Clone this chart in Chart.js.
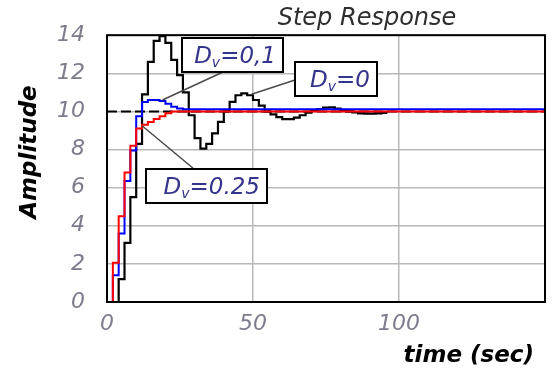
<!DOCTYPE html>
<html>
<head>
<meta charset="utf-8">
<script src="https://cdn.jsdelivr.net/npm/chart.js@4/dist/chart.umd.min.js"></script>
<style>
  html, body { margin: 0; padding: 0; background: #fff; }
  canvas { display: block; }
</style>
</head>
<body>
<canvas id="stepChart" width="554" height="372"></canvas>
<script>
// sampled step responses, value held until the next sample
let timeFast = [0, 2, 4, 6, 8, 10, 12, 14, 16, 18, 20, 22, 24, 26, 150];
let redResp  = [0, 2.06, 4.5, 6.8, 8.2, 9.1, 9.3, 9.45, 9.6, 9.75, 9.9, 10, 10, 10, 10];
let blueResp = [0, 1.4, 3.6, 6.35, 7.95, 9.75, 10.5, 10.6, 10.6, 10.55, 10.4, 10.25, 10.15, 10.12, 10.12];

let timeSlow = [0, 2, 4, 6, 8, 10, 12, 14, 16, 18, 20, 22, 24, 26, 28, 30, 32, 34, 36, 38,
  40, 42, 44, 46, 48, 50, 52, 54, 56, 58, 60, 62, 64, 66, 68, 70, 72, 74, 76, 78,
  80, 82, 84, 86, 88, 90, 92, 94, 96];
let blackResp = [0, 0, 1.2, 3.1, 5.5, 8.3, 10.9, 12.6, 13.7, 13.95, 13.6, 12.7, 11.9, 11.0, 9.8, 8.6, 8.05, 8.3, 8.85, 9.45,
  10.0, 10.5, 10.85, 10.95, 10.85, 10.6, 10.3, 10.0, 9.85, 9.7, 9.6, 9.6, 9.68, 9.8, 9.93, 10.03, 10.12, 10.2, 10.22, 10.15,
  10.08, 10.0, 9.95, 9.9, 9.88, 9.88, 9.9, 9.92, 9.92];

let finalValue = 10;
let dvLabels = ['0,1', '0', '0.25'];
let xTicks = [0, 50, 100];

const pts = (ts, vs) => ts.map((t, i) => ({ x: t, y: vs[i] }));

const tickFont = { family: 'DejaVu Sans', size: 22, style: 'italic' };
const tickColor = '#7c7c8c';

// callout boxes: which label, box rect, where the leader leaves the box, and the point it points at
const callouts = [
  { label: dvLabels[0], box: [182, 38, 101, 34], from: [223, 72], at: [19, 10.6] },
  { label: dvLabels[1], box: [295, 62, 82, 34], from: [295, 80], at: [49.5, 10.9] },
  { label: dvLabels[2], box: [146, 169, 121, 34], from: [194, 169], at: [12, 9.25] }
];

function drawCallout(ctx, chart, c) {
  const [x, y, w, h] = c.box;
  const px = chart.scales.x.getPixelForValue(c.at[0]);
  const py = chart.scales.y.getPixelForValue(c.at[1]);
  ctx.save();
  ctx.strokeStyle = '#4a4a4a';
  ctx.lineWidth = 1.5;
  ctx.beginPath();
  ctx.moveTo(c.from[0], c.from[1]);
  ctx.lineTo(px, py);
  ctx.stroke();

  ctx.fillStyle = '#fff';
  ctx.fillRect(x, y, w, h);
  ctx.strokeStyle = '#000';
  ctx.lineWidth = 2;
  ctx.strokeRect(x, y, w, h);

  const big = 'italic 23px "DejaVu Sans"';
  const small = 'italic 14px "DejaVu Sans"';
  ctx.font = big;
  const wD = ctx.measureText('D').width;
  const rest = '=' + c.label;
  const wRest = ctx.measureText(rest).width;
  ctx.font = small;
  const wv = ctx.measureText('v').width;
  let tx = x + w - 7 - (wD + wv + wRest);
  const base = y + h / 2 + 8;
  ctx.fillStyle = '#34348c';
  ctx.textBaseline = 'alphabetic';
  ctx.textAlign = 'left';
  ctx.font = big;
  ctx.fillText('D', tx, base);
  tx += wD;
  ctx.font = small;
  ctx.fillText('v', tx, base + 4);
  tx += wv;
  ctx.font = big;
  ctx.fillText(rest, tx, base);
  ctx.restore();
}

const frame = {
  id: 'frame',
  afterDatasetsDraw(chart) {
    const { ctx, chartArea: a } = chart;
    ctx.save();
    ctx.strokeStyle = '#000';
    ctx.lineWidth = 2;
    ctx.strokeRect(a.left, a.top, a.right - a.left, a.bottom - a.top);
    ctx.restore();
    callouts.forEach(c => drawCallout(ctx, chart, c));
  },
  afterDraw(chart) {
    const { ctx } = chart;
    ctx.save();
    ctx.fillStyle = '#2e2e2e';
    ctx.font = 'italic 24px "DejaVu Sans"';
    ctx.textAlign = 'center';
    ctx.textBaseline = 'alphabetic';
    ctx.fillText('Step Response', 367, 25);

    ctx.fillStyle = '#000';
    ctx.font = 'italic bold 23px "DejaVu Sans"';
    ctx.textAlign = 'right';
    ctx.textBaseline = 'middle';
    ctx.fillText('time (sec)', 534, 356);

    ctx.translate(30, 152);
    ctx.rotate(-Math.PI / 2);
    ctx.textAlign = 'center';
    ctx.fillText('Amplitude', 0, 0);
    ctx.restore();
  }
};

const ctx = document.getElementById('stepChart').getContext('2d');
new Chart(ctx, {
  type: 'line',
  data: {
    datasets: [
      { label: 'Dv=0.25', data: pts(timeFast, redResp), borderColor: '#ff0000', borderWidth: 2, stepped: true, pointRadius: 0, order: 0 },
      { label: 'Dv=0,1', data: pts(timeFast, blueResp), borderColor: '#0000ff', borderWidth: 2, stepped: true, pointRadius: 0, order: 1 },
      { label: 'Dv=0', data: pts(timeSlow, blackResp), borderColor: '#000000', borderWidth: 2.2, stepped: true, pointRadius: 0, order: 2 },
      { label: 'final', data: [{ x: 0, y: finalValue }, { x: 150, y: finalValue }], borderColor: '#000000', borderWidth: 2, borderDash: [10, 4], pointRadius: 0, order: 3 }
    ]
  },
  options: {
    responsive: false,
    animation: false,
    devicePixelRatio: 1,
    layout: { padding: { top: 35, right: 9, bottom: 0, left: 0 } },
    plugins: { legend: { display: false }, tooltip: { enabled: false } },
    scales: {
      x: {
        type: 'linear', min: 0, max: 150,
        afterBuildTicks: s => { s.ticks = xTicks.concat([150]).map(v => ({ value: v })); },
        ticks: { font: tickFont, color: tickColor, padding: 9, maxRotation: 0,
          callback: v => (xTicks.includes(v) ? v : '') },
        grid: { color: '#b8b8b8', lineWidth: 1.5, drawTicks: false },
        border: { display: false },
        afterFit: s => { s.height = 70; }
      },
      y: {
        min: 0, max: 14,
        ticks: { stepSize: 2, font: tickFont, color: tickColor, padding: 22 },
        grid: { color: '#b8b8b8', lineWidth: 1.5, drawTicks: false },
        border: { display: false },
        afterFit: s => { s.width = 107; }
      }
    }
  },
  plugins: [frame]
});
</script>
</body>
</html>
